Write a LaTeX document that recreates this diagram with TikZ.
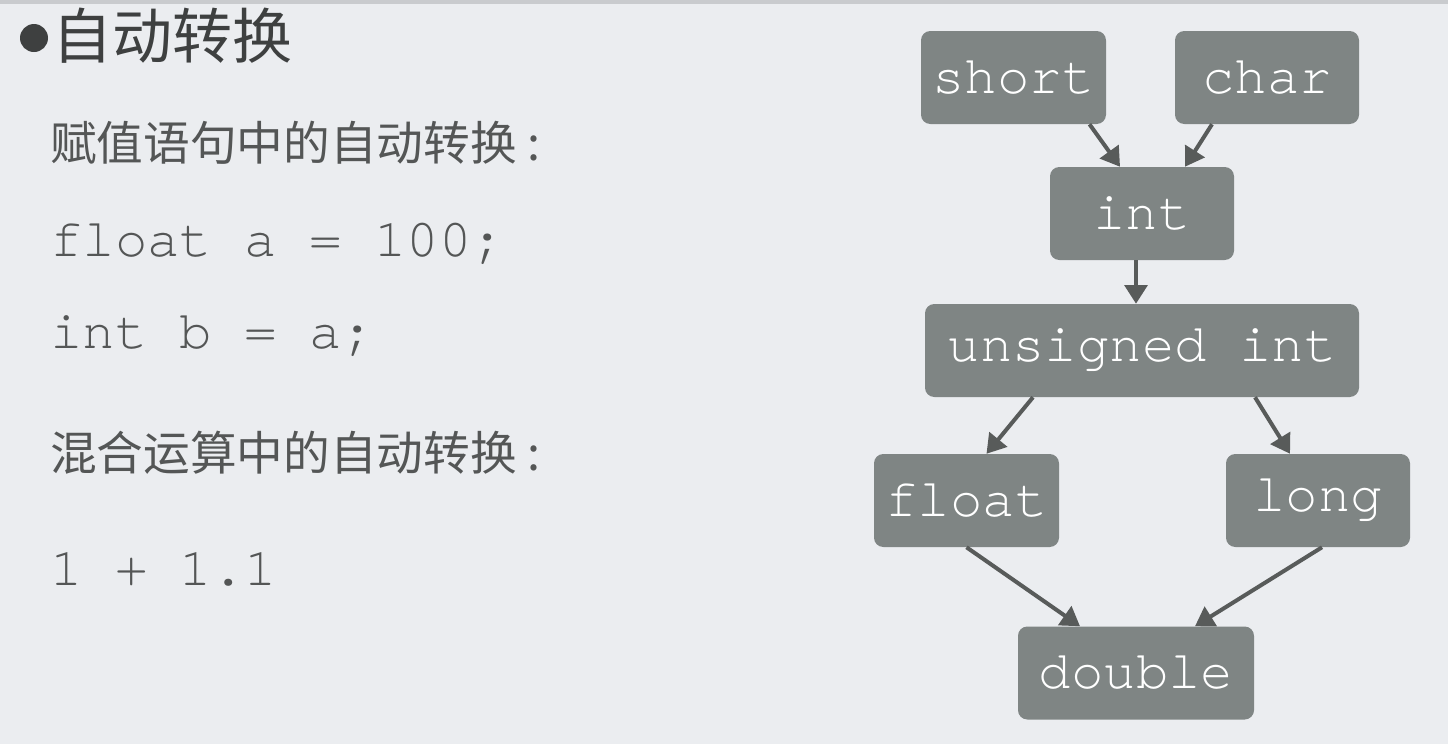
\documentclass[tikz,border=0pt]{standalone}
\usepackage{fontspec}
\setmonofont[Ligatures=NoCommon]{TeX Gyre Cursor}
\newfontfamily\cjk{Noto Sans CJK SC}
\usetikzlibrary{arrows.meta,calc}
\definecolor{cv-bg}{HTML}{EBEDF0}
\definecolor{cv-strip}{HTML}{C9CBCE}
\definecolor{cv-box}{HTML}{7F8584}
\definecolor{cv-line}{HTML}{585B5A}
\definecolor{cv-text}{HTML}{545656}
\definecolor{cv-head}{HTML}{3E4040}

\begin{document}
\begin{tikzpicture}[
  x=0.75pt,y=-0.75pt,
  box/.style={fill=cv-box,rounded corners=7pt,text=white,inner sep=0pt,
              minimum height=69.75pt,font=\ttfamily\fontsize{40.5}{41}\selectfont},
  code/.style={anchor=base west,inner sep=0pt,text=cv-text,
               font=\ttfamily\fontsize{40.5}{41}\selectfont},
  zh/.style={anchor=base west,inner sep=0pt,text=cv-text,font=\cjk\fontsize{35}{36}\selectfont},
  ar/.style={-{Triangle[length=14pt,width=17pt]},cv-line,line width=3pt}
]
\useasboundingbox (0,0) rectangle (1448,744);
\fill[cv-bg] (0,0) rectangle (1448,744);
\fill[cv-strip] (0,0) rectangle (1448,4);

% left column
\fill[cv-head] (34,38) circle (10.5pt);
\node[anchor=base west,inner sep=0pt,text=cv-head,font=\cjk\fontsize{45}{46}\selectfont]
     (title) at (52,58) {自动转换};
\node[zh]   (assign) at (50,160) {赋值语句中的自动转换\hspace{8pt}:};
\node[code] (la)     at (50,256) {float a = 100;};
\node[code] (lb)     at (50,348) {int b = a;};
\node[zh]   (mixed)  at (50,470) {混合运算中的自动转换\hspace{8pt}:};
\node[code] (sum)    at (50,585) {1 + 1.1};

% conversion graph
\node[box,minimum width=138.75pt] (short)  at (1013.5,77.5) {short};
\node[box,minimum width=138pt]    (char)   at (1267,77.5)   {char};
\node[box,minimum width=138pt]    (int)    at (1142,213.5)  {int};
\node[box,minimum width=325.5pt]  (uint)   at (1142,350.5)  {unsigned int};
\node[box,minimum width=138.75pt] (float)  at (966.5,500.5) {float};
\node[box,minimum width=138pt]    (long)   at (1318,500.5)  {long};
\node[box,minimum width=177pt]    (double) at (1136,673)    {double};

\draw[ar] ($(short.south)+(76,0)$) -- ($(int.north)+(-22,0)$);
\draw[ar] ($(char.south)+(-55,0)$) -- ($(int.north)+(43,0)$);
\draw[ar] ($(int.south)+(-6,0)$)   -- ($(uint.north)+(-6,0)$);
\draw[ar] ($(uint.south)+(-109,0)$) -- ($(float.north)+(20,0)$);
\draw[ar] ($(uint.south)+(113,0)$)  -- ($(long.north)+(-28,0)$);
\draw[ar] ($(float.south)+(0,0)$)   -- ($(double.north)+(-56,0)$);
\draw[ar] ($(long.south)+(4,0)$)    -- ($(double.north)+(59,0)$);
\end{tikzpicture}
\end{document}
